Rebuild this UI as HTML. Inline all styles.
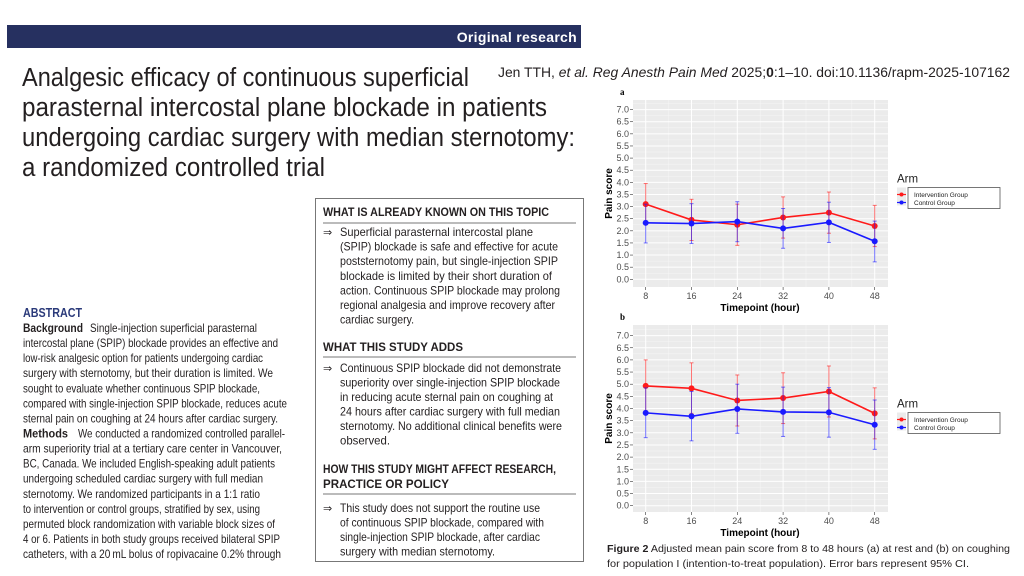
<!DOCTYPE html>
<html><head><meta charset="utf-8">
<style>
html,body{margin:0;padding:0;background:#fff;}
svg{display:block;font-family:"Liberation Sans",sans-serif;}
</style></head>
<body>
<svg id="s" width="1024" height="576" viewBox="0 0 1024 576" xmlns="http://www.w3.org/2000/svg">
<rect width="1024" height="576" fill="#fff"/>
<rect x="7" y="25" width="574" height="23" fill="#263060"/>
<text x="577" y="42" text-anchor="end" fill="#fff" font-size="14" font-weight="bold" letter-spacing="0.3">Original research</text>
<g font-size="25.5" fill="#231f20">
<text x="22" y="86" textLength="447" lengthAdjust="spacingAndGlyphs">Analgesic efficacy of continuous superficial</text>
<text x="22" y="116" textLength="525" lengthAdjust="spacingAndGlyphs">parasternal intercostal plane blockade in patients</text>
<text x="22" y="146" textLength="553" lengthAdjust="spacingAndGlyphs">undergoing cardiac surgery with median sternotomy:</text>
<text x="22" y="176" textLength="303" lengthAdjust="spacingAndGlyphs">a randomized controlled trial</text>
</g>
<text x="498" y="77" font-size="14" fill="#231f20" textLength="512" lengthAdjust="spacingAndGlyphs">Jen TTH, <tspan font-style="italic">et al. Reg Anesth Pain Med</tspan> 2025;<tspan font-weight="bold">0</tspan>:1–10. doi:10.1136/rapm-2025-107162</text>
<g id="abs" font-size="12" fill="#231f20"></g>
<rect x="315.5" y="198.5" width="268" height="363" fill="none" stroke="#777" stroke-width="1"/>
<g id="box" font-size="12" fill="#231f20"></g>
<g id="ca"></g><g id="cb"></g>
<g font-size="10.5" fill="#231f20">
<text x="607" y="552" textLength="403" lengthAdjust="spacingAndGlyphs"><tspan font-weight="bold">Figure 2</tspan> Adjusted mean pain score from 8 to 48 hours (a) at rest and (b) on coughing</text>
<text x="607" y="567" textLength="362" lengthAdjust="spacingAndGlyphs">for population I (intention-to-treat population). Error bars represent 95% CI.</text>
</g>
</svg>
<script>
var NS="http://www.w3.org/2000/svg";
function el(p,t,a,txt){var e=document.createElementNS(NS,t);for(var k in a)e.setAttribute(k,a[k]);if(txt!=null)e.textContent=txt;p.appendChild(e);return e;}
var A=document.getElementById('abs');
el(A,'text',{x:23,y:317,'font-weight':'bold',fill:'#2b3a7a','font-size':'12.5',textLength:59,lengthAdjust:'spacingAndGlyphs'},'ABSTRACT');
var al=[["Background","Single-injection superficial parasternal",60,90,167],
["","intercostal plane (SPIP) blockade provides an effective and",0,23,255],
["","low-risk analgesic option for patients undergoing cardiac",0,23,240],
["","surgery with sternotomy, but their duration is limited. We",0,23,250],
["","sought to evaluate whether continuous SPIP blockade,",0,23,237],
["","compared with single-injection SPIP blockade, reduces acute",0,23,264],
["","sternal pain on coughing at 24 hours after cardiac surgery.",0,23,255],
["Methods","We conducted a randomized controlled parallel-",45,78,207],
["","arm superiority trial at a tertiary care center in Vancouver,",0,23,259],
["","BC, Canada. We included English-speaking adult patients",0,23,252],
["","undergoing scheduled cardiac surgery with full median",0,23,240],
["","sternotomy. We randomized participants in a 1:1 ratio",0,23,237],
["","to intervention or control groups, stratified by sex, using",0,23,237],
["","permuted block randomization with variable block sizes of",0,23,252],
["","4 or 6. Patients in both study groups received bilateral SPIP",0,23,257],
["","catheters, with a 20\u2009mL bolus of ropivacaine 0.2% through",0,23,258]];
al.forEach(function(l,i){var y=332+i*15.07;
 if(l[0])el(A,'text',{x:23,y:y,'font-weight':'bold',textLength:l[2],lengthAdjust:'spacingAndGlyphs'},l[0]);
 el(A,'text',{x:l[3],y:y,textLength:l[4],lengthAdjust:'spacingAndGlyphs'},l[1]);});
var B=document.getElementById('box');
function head(y,s,w){el(B,'text',{x:323,y:y+4,'font-weight':'bold',textLength:w,lengthAdjust:'spacingAndGlyphs'},s);}
function rule(y){el(B,'line',{x1:323,x2:576,y1:y,y2:y,stroke:'#777','stroke-width':1});}
function bl(y,s,w,arrow){if(arrow)el(B,'text',{x:323,y:y+4,'font-size':'11'},'\u21D2');el(B,'text',{x:340,y:y+4,textLength:w,lengthAdjust:'spacingAndGlyphs'},s);}
head(212,'WHAT IS ALREADY KNOWN ON THIS TOPIC',226);rule(223);
var b1=[["Superficial parasternal intercostal plane",193],["(SPIP) blockade is safe and effective for acute",218],["poststernotomy pain, but single-injection SPIP",218],["blockade is limited by their short duration of",212],["action. Continuous SPIP blockade may prolong",220],["regional analgesia and improve recovery after",215],["cardiac surgery.",74]];
b1.forEach(function(l,i){bl(232+i*14.6,l[0],l[1],i==0);});
head(347,'WHAT THIS STUDY ADDS',140);rule(357);
var b2=[["Continuous SPIP blockade did not demonstrate",221],["superiority over single-injection SPIP blockade",220],["in reducing acute sternal pain on coughing at",213],["24 hours after cardiac surgery with full median",220],["sternotomy. No additional clinical benefits were",222],["observed.",50]];
b2.forEach(function(l,i){bl(368+i*14.5,l[0],l[1],i==0);});
head(469,'HOW THIS STUDY MIGHT AFFECT RESEARCH,',233);head(484,'PRACTICE OR POLICY',126);rule(494);
var b3=[["This study does not support the routine use",200],["of continuous SPIP blockade, compared with",204],["single-injection SPIP blockade, after cardiac",200],["surgery with median sternotomy.",155]];
b3.forEach(function(l,i){bl(508+i*14.5,l[0],l[1],i==0);});
function chart(id,top,bot,y0,y7,lab,red,rl,rh,blu,bl_,bh){
 var G=document.getElementById(id);
 function X(t){return 645.7+(t-8)*45.8/8;} function Y(v){return y0+(y7-y0)*v/7;}
 el(G,'rect',{x:633,y:top,width:255,height:bot-top,fill:'#ebebeb'});
 for(var v=0.25;v<7.5;v+=0.5)el(G,'line',{x1:633,x2:888,y1:Y(v),y2:Y(v),stroke:'#f6f6f6','stroke-width':0.5});
 for(var t=12;t<48;t+=8)el(G,'line',{x1:X(t),x2:X(t),y1:top,y2:bot,stroke:'#f6f6f6','stroke-width':0.5});
 for(var v=0;v<=7.001;v+=0.5){el(G,'line',{x1:633,x2:888,y1:Y(v),y2:Y(v),stroke:'#fff','stroke-width':1});
  el(G,'line',{x1:630,x2:633,y1:Y(v),y2:Y(v),stroke:'#333','stroke-width':0.6});
  el(G,'text',{x:629,y:Y(v)+3,'text-anchor':'end','font-size':'9',fill:'#4d4d4d'},v.toFixed(1));}
 var ts=[8,16,24,32,40,48];
 ts.forEach(function(t){el(G,'line',{x1:X(t),x2:X(t),y1:top,y2:bot,stroke:'#fff','stroke-width':1});
  el(G,'line',{x1:X(t),x2:X(t),y1:bot,y2:bot+3,stroke:'#333','stroke-width':0.6});
  el(G,'text',{x:X(t),y:bot+12,'text-anchor':'middle','font-size':'9',fill:'#4d4d4d'},t);});
 function ser(m,lo,hi,c){
  ts.forEach(function(t,i){el(G,'line',{x1:X(t),x2:X(t),y1:Y(lo[i]),y2:Y(hi[i]),stroke:c,'stroke-width':1,opacity:0.6});
   [lo[i],hi[i]].forEach(function(v){el(G,'line',{x1:X(t)-2,x2:X(t)+2,y1:Y(v),y2:Y(v),stroke:c,'stroke-width':1,opacity:0.6});});});
  el(G,'polyline',{points:ts.map(function(t,i){return X(t)+','+Y(m[i]);}).join(' '),fill:'none',stroke:c,'stroke-width':1.6});
  ts.forEach(function(t,i){el(G,'circle',{cx:X(t),cy:Y(m[i]),r:3,fill:c});});}
 ser(red,rl,rh,'#ff1a1a');ser(blu,bl_,bh,'#1a1aff');
 el(G,'text',{x:620,y:top-5,'font-size':'9','font-weight':'bold','font-family':'Liberation Serif,serif'},lab);
 var cy=(top+bot)/2; el(G,'text',{transform:'translate(612,'+cy+') rotate(-90)','text-anchor':'middle','font-size':'10','font-weight':'bold'},'Pain score');
 el(G,'text',{x:760,y:bot+24,'text-anchor':'middle','font-size':'10','font-weight':'bold'},'Timepoint (hour)');
 var ly=cy-9;
 el(G,'text',{x:897,y:ly-2,'font-size':'11.5',fill:'#222'},'Arm');
 el(G,'rect',{x:897,y:ly+3,width:9,height:18,fill:'#ebebeb'});
 el(G,'rect',{x:908,y:ly+3,width:92,height:21,fill:'#fff',stroke:'#555','stroke-width':0.8});
 [['#ff1a1a','Intervention Group',ly+10],['#1a1aff','Control Group',ly+18]].forEach(function(k){
  el(G,'line',{x1:897,x2:906,y1:k[2],y2:k[2],stroke:k[0],'stroke-width':1.2});el(G,'circle',{cx:901.5,cy:k[2],r:2,fill:k[0]});
  el(G,'text',{x:914,y:k[2]+2.5,'font-size':'6.5',fill:'#222'},k[1]);});
}
chart('ca',100,287,279.3,109.6,'a',[3.1,2.45,2.25,2.55,2.75,2.2],[2.25,1.6,1.4,1.7,1.9,1.35],[3.95,3.3,3.1,3.4,3.6,3.05],
 [2.33,2.3,2.38,2.1,2.35,1.57],[1.5,1.48,1.55,1.28,1.52,0.72],[3.1,3.12,3.2,2.92,3.18,2.4]);
chart('cb',325,512,505.7,335.6,'b',[4.93,4.83,4.33,4.43,4.7,3.8],[3.9,3.8,3.28,3.38,3.65,2.75],[6.0,5.88,5.38,5.47,5.75,4.85],
 [3.82,3.68,3.98,3.86,3.84,3.33],[2.8,2.67,2.98,2.85,2.82,2.32],[4.85,4.7,5.0,4.88,4.86,4.35]);
</script>
</body></html>
